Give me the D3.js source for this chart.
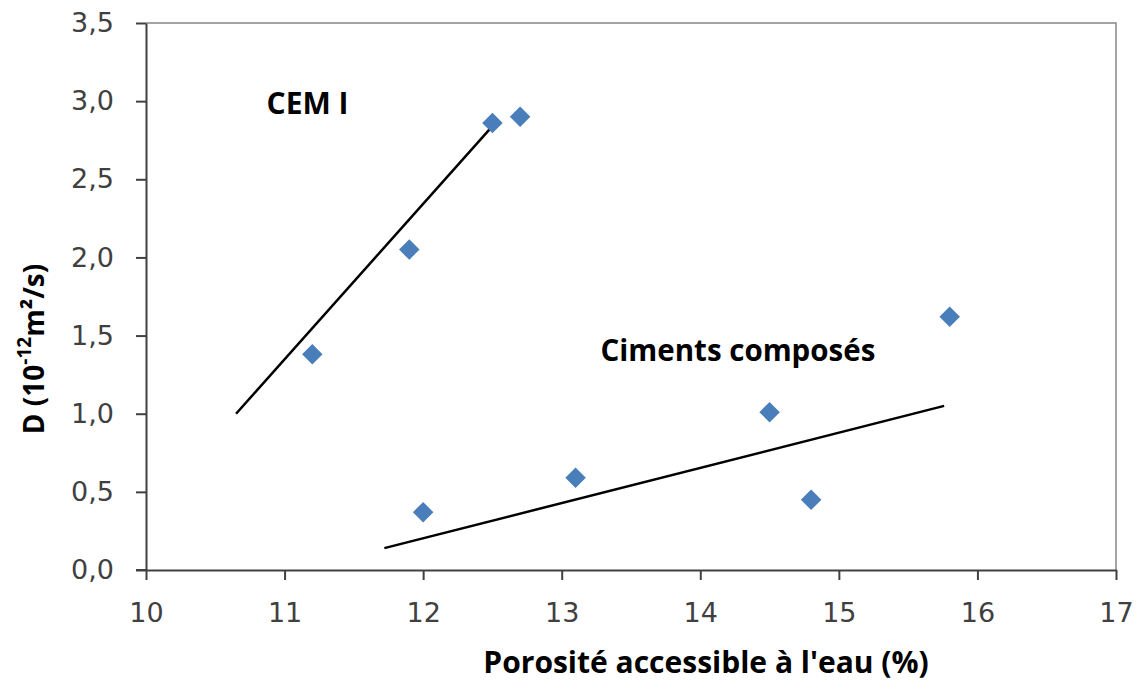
<!DOCTYPE html>
<html lang="fr">
<head>
<meta charset="UTF-8">
<title>D vs porosité</title>
<script src="https://d3js.org/d3.v7.min.js"></script>
<style>
    body { margin: 0; background: #fff; }
    .tick text { font-family: "DejaVu Sans", sans-serif; font-size: 27px; fill: #404040; }
    .lbl { font-family: "Open Sans", sans-serif; font-weight: bold; fill: #000; }
</style>
</head>
<body>
<svg id="chart" width="1136" height="683"></svg>
<script>
// measured points (porosité %, D 1e-12 m2/s)
const cemX = [11.2, 11.9, 12.5, 12.7];
const cemY = [1.38, 2.05, 2.86, 2.90];
const compX = [12.0, 13.1, 14.5, 14.8, 15.8];
const compY = [0.37, 0.59, 1.01, 0.45, 1.62];
// trend line endpoints
const cemTrend = [[10.65, 1.00], [12.5, 2.84]];
const compTrend = [[11.72, 0.14], [15.76, 1.05]];
const xTicks = [10, 11, 12, 13, 14, 15, 16, 17];
const yTicks = [0, 0.5, 1, 1.5, 2, 2.5, 3, 3.5];

const svg = d3.select("#chart");
const x = d3.scaleLinear().domain([10, 17]).range([146, 1116]);
const y = d3.scaleLinear().domain([0, 3.5]).range([570, 23]);
const fmt = d => d.toFixed(1).replace(".", ",");

// top and right frame
svg.append("path")
    .attr("d", `M${x(10)},${y(3.5)}H${x(17)}V${y(0)}`)
    .attr("fill", "none").attr("stroke", "#868686").attr("stroke-width", 1.5);

const xa = svg.append("g").attr("transform", `translate(0,${y(0)})`)
    .call(d3.axisBottom(x).tickValues(xTicks).tickFormat(d3.format("d")).tickSize(10).tickSizeOuter(0).tickPadding(23));
const ya = svg.append("g").attr("transform", `translate(${x(10)},0)`)
    .call(d3.axisLeft(y).tickValues(yTicks).tickFormat(fmt).tickSize(10).tickSizeOuter(0).tickPadding(22));
[xa, ya].forEach(a => {
    a.select(".domain").attr("stroke", "#404040").attr("stroke-width", 2);
    a.selectAll(".tick line").attr("stroke", "#404040").attr("stroke-width", 2);
});
// x axis line runs a little left past the y axis, like the tick cross at the origin
svg.append("line").attr("x1", x(10) - 10).attr("x2", x(10))
    .attr("y1", y(0)).attr("y2", y(0)).attr("stroke", "#404040").attr("stroke-width", 2);

const line = d3.line().x(d => x(d[0])).y(d => y(d[1]));
[cemTrend, compTrend].forEach(t => {
    svg.append("path").attr("d", line(t))
        .attr("fill", "none").attr("stroke", "#000").attr("stroke-width", 2.5);
});

const pts = cemX.map((v, i) => [v, cemY[i]]).concat(compX.map((v, i) => [v, compY[i]]));
const diamond = d3.symbol().type(d3.symbolSquare).size(210);
svg.append("g").selectAll("path").data(pts).join("path")
    .attr("d", diamond)
    .attr("transform", d => `translate(${x(d[0])},${y(d[1])}) rotate(45)`)
    .attr("fill", "#4a7ebb");

svg.append("text").attr("class", "lbl").attr("font-size", 30)
    .attr("x", x(10.87)).attr("y", y(2.92)).text("CEM I");
svg.append("text").attr("class", "lbl").attr("font-size", 29.5)
    .attr("x", x(13.28)).attr("y", y(1.335)).text("Ciments composés");

svg.append("text").attr("class", "lbl").attr("font-size", 30)
    .attr("x", 706).attr("y", 673).attr("text-anchor", "middle")
    .text("Porosité accessible à l'eau (%)");

const yt = svg.append("text").attr("class", "lbl").attr("font-size", 28)
    .attr("text-anchor", "middle")
    .attr("transform", "translate(44,349) rotate(-90)");
yt.append("tspan").text("D (10");
yt.append("tspan").attr("font-size", 19).attr("baseline-shift", "super").text("-12");
yt.append("tspan").text("m²/s)");
</script>
</body>
</html>
